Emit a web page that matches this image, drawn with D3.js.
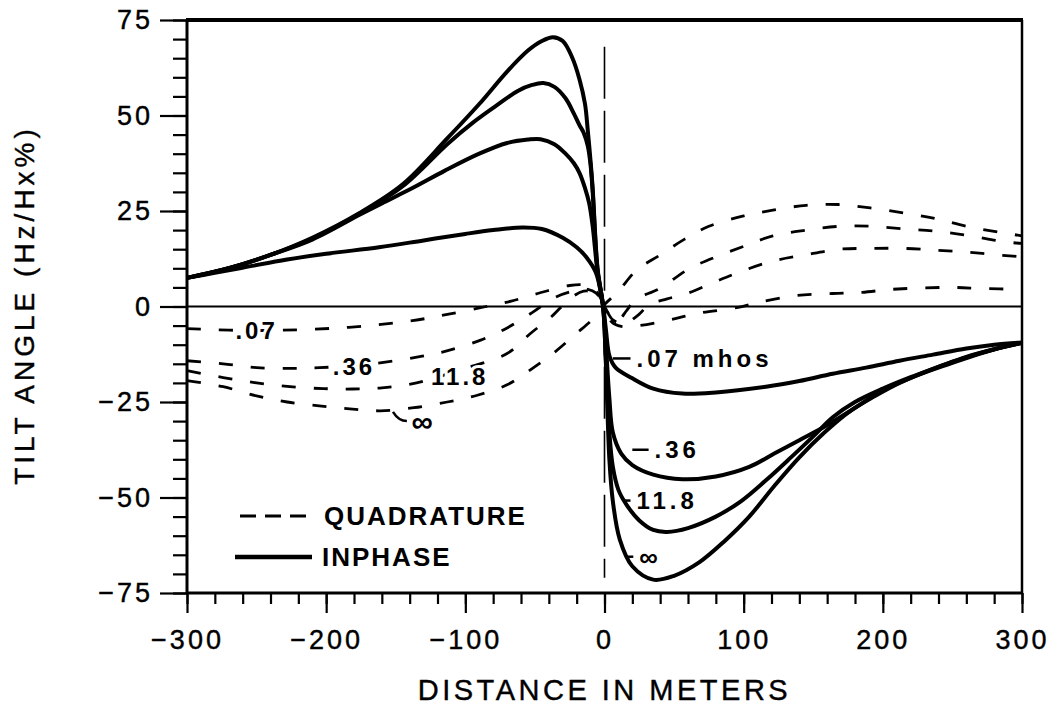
<!DOCTYPE html>
<html>
<head>
<meta charset="utf-8">
<script src="https://cdn.jsdelivr.net/npm/d3@7"></script>
<style>
  html, body { margin: 0; padding: 0; background: #fff; }
  svg { display: block; font-family: "Liberation Sans", Arial, Helvetica, sans-serif; }
</style>
</head>
<body>
<div id="chart"></div>
<script>
// ---- data: [distance (m), tilt angle (%)] ----

// inphase (solid) curves, one per conductance
const inphase007 = [[-300,7.5],[-280,8.8],[-262,10],[-233,12],[-200,13.8],[-162,15.5],[-130,17.3],[-100,19],[-80,20],[-59,20.7],[-45,20.3],[-30,18],[-20,15.5],[-13,12.9],[-6,8.7],[-1,0],[1,-6],[3.6,-13],[8,-16],[20,-18.8],[35,-21.5],[56,-22.8],[80,-22.5],[116,-21],[140,-19.5],[164,-17.6],[188,-16],[212,-14.2],[236,-12.6],[260,-11],[280,-10],[300,-9.4]];
const inphase036 = [[-300,7.5],[-270,10],[-240,13.5],[-210,17.5],[-176,24],[-160,27],[-138,31],[-115,35.5],[-90,40],[-70,42.8],[-55,43.7],[-46,43.8],[-36,42.5],[-28,40],[-22,37.5],[-18,35],[-14,31],[-11,27],[-8.5,21],[-5,9],[-1,0],[1,-10],[3.5,-24],[6,-33],[12,-38.5],[20,-41.5],[35,-44],[56,-45.2],[80,-44.5],[104,-42],[122,-38.5],[140,-35],[158,-31.5],[176,-27.5],[200,-22],[225,-18],[248,-15],[270,-12.3],[290,-10.3],[300,-9.5]];
const inphase118 = [[-300,7.5],[-270,10],[-240,13.5],[-210,17.8],[-176,24.3],[-145,31.5],[-113,42.5],[-95,48],[-78,52.5],[-62,56.5],[-52,58],[-44,58.5],[-36,57.5],[-28,54.5],[-22,50.5],[-18,47.5],[-15,45.5],[-12,42],[-10,37],[-8.5,30],[-5,9.5],[-1,0],[1,-14],[3.5,-33],[6,-42],[10,-48],[16,-52],[25,-56],[35,-58.5],[45,-59],[60,-58],[80,-55],[98,-51],[116,-45.5],[134,-39.5],[150,-34],[164,-29],[180,-25],[200,-21.5],[220,-18.5],[240,-15.8],[260,-13.2],[280,-11.2],[300,-9.5]];
const inphaseInf = [[-300,7.5],[-270,10],[-240,13.5],[-210,18],[-176,24.5],[-145,32],[-113,44],[-90,53],[-70,61.5],[-55,67],[-45,69.5],[-37,70.5],[-30,69.5],[-23,65],[-18,59.5],[-14,53],[-12,46],[-10,38],[-8.5,31],[-5,10],[-1,0],[1,-15],[3.5,-40],[6,-51],[11,-61],[20,-68],[35,-71.5],[50,-70.5],[68,-67],[86,-61.5],[104,-55],[122,-47],[140,-39.5],[158,-33],[176,-27.5],[194,-23.5],[212,-20],[236,-16.3],[260,-13.3],[280,-11.2],[300,-9.5]];

// quadrature (dashed) curves
const quad007 = [[-300,-5.8],[-250,-6.3],[-186,-5.5],[-138,-3.7],[-112,-2],[-85,0],[-67,1.4],[-48,3.4],[-25,5.5],[-13,5.5],[-6,4],[0,0],[5,-4],[12,-5.2],[25,-5],[47,-3.5],[67,-1.8],[95,-0.3],[112,1.2],[138,2.9],[164,3.4],[185,3.7],[207,4.5],[248,5],[272,4.7],[300,4.5]];
const quad036 = [[-300,-14.2],[-274,-15],[-250,-16],[-226,-16.2],[-205,-16],[-180,-15.5],[-160,-14.7],[-131,-13],[-112,-11.5],[-89,-8.8],[-70,-5.6],[-52,-1.6],[-36,2.3],[-23,4],[-12,4.5],[-6,3.5],[0,0],[6,-3.5],[14,-4.5],[25,-2],[32,0.5],[45,2],[60,3.5],[79,6.4],[97,9],[120,11.8],[144,13.5],[169,15],[191,15.2],[215,15.2],[240,14.7],[262,14.2],[286,13.4],[300,13]];
const quad118 = [[-300,-16.8],[-274,-18.6],[-250,-20],[-226,-21],[-202,-21.5],[-181,-21.6],[-160,-21.3],[-135,-20],[-103,-16.5],[-70,-12.3],[-53,-7],[-38,-2.6],[-25,2],[-15,4],[-7,3.5],[0,0],[5,-3],[10,-3.5],[16,-1],[22,1.7],[40,4.8],[60,9.7],[80,13],[102,16],[121,18.5],[145,20],[169,21],[191,21],[215,20.3],[238,19.7],[261,18.6],[286,17],[300,16.5]];
const quadInf = [[-300,-19.4],[-274,-21],[-250,-23.4],[-228,-25],[-205,-26],[-183,-26.8],[-161,-27.3],[-137,-26.5],[-113,-25],[-92,-23.3],[-70,-20.5],[-53,-16.5],[-36,-12],[-20,-7],[-9,-3.5],[-3,-1],[0,0.5],[10,4],[23,9.5],[40,13.5],[57,17.5],[75,21],[100,23.7],[121,25.2],[145,26.5],[168,26.7],[191,25.8],[215,24.5],[238,23],[260,21],[286,19.3],[300,18.5]];

// axis ticks and labels
const xTickValues = [-300, -200, -100, 0, 100, 200, 300];
const yTickValues = [-75, -50, -25, 0, 25, 50, 75];
const xLabel = "DISTANCE IN METERS";
const yLabel = "TILT ANGLE (Hz/Hx%)";
const legendNames = ["QUADRATURE", "INPHASE"];

// curve labels
const inphaseLabels = [".07 mhos", ".36", "11.8", "\u221E"];
const quadLabels = [".07", ".36", "11.8", "\u221E"];

// ---- layout ----
const margin = { top: 20, right: 35, bottom: 117, left: 187 };
const width = 1057 - margin.left - margin.right;
const height = 710 - margin.top - margin.bottom;

const x = d3.scaleLinear().domain([-300, 300]).range([0, width]);
const y = d3.scaleLinear().domain([-75, 75]).range([height, 0]);

const svg = d3.select("#chart")
  .append("svg")
    .attr("width", width + margin.left + margin.right)
    .attr("height", height + margin.top + margin.bottom)
  .append("g")
    .attr("transform", `translate(${margin.left},${margin.top})`);

// minor ticks every 5 / 20 units, major ones with labels
const yMinor = svg.append("g")
  .call(d3.axisLeft(y).tickValues(d3.range(-75, 76, 5)).tickSize(14).tickFormat(""));
const yMajor = svg.append("g")
  .call(d3.axisLeft(y).tickValues(yTickValues).tickSize(27).tickPadding(7));
const xMinor = svg.append("g")
  .attr("transform", `translate(0,${height})`)
  .call(d3.axisBottom(x).tickValues(d3.range(-300, 301, 20)).tickSize(11).tickFormat(""));
const xMajor = svg.append("g")
  .attr("transform", `translate(0,${height})`)
  .call(d3.axisBottom(x).tickValues(xTickValues).tickSize(20).tickPadding(17));

[yMinor, yMajor, xMinor, xMajor].forEach(g => {
  g.select(".domain").remove();
  g.selectAll(".tick line").attr("stroke", "#000").attr("stroke-width", 2.2);
});
[yMajor, xMajor].forEach(g => {
  g.selectAll(".tick text")
    .attr("fill", "#000")
    .attr("stroke", "#000").attr("stroke-width", 0.4)
    .style("font-size", "27px")
    .style("letter-spacing", "3px");
});

// zero line
svg.append("line")
  .attr("x1", 0).attr("x2", width)
  .attr("y1", y(0)).attr("y2", y(0))
  .attr("stroke", "#000").attr("stroke-width", 2);

// vertical dashed line at the conductor
svg.append("line")
  .attr("x1", x(0)).attr("x2", x(0))
  .attr("y1", y(68)).attr("y2", y(-71))
  .attr("stroke", "#000").attr("stroke-width", 1.6)
  .attr("stroke-dasharray", "52,12");

const line = d3.line()
  .x(d => x(d[0]))
  .y(d => y(d[1]))
  .curve(d3.curveCatmullRom.alpha(0.5));

// quadrature curves
[quad007, quad036, quad118, quadInf].forEach(data => {
  svg.append("path")
    .datum(data)
    .attr("fill", "none")
    .attr("stroke", "#000")
    .attr("stroke-width", 2.8)
    .attr("stroke-dasharray", "14,18")
    .attr("d", line);
});

// inphase curves
[inphase007, inphase036, inphase118, inphaseInf].forEach(data => {
  svg.append("path")
    .datum(data)
    .attr("fill", "none")
    .attr("stroke", "#000")
    .attr("stroke-width", 4)
    .attr("stroke-linejoin", "round")
    .attr("d", line);
});

// frame
svg.append("line").attr("x1", -1).attr("x2", width + 1).attr("y1", 0).attr("y2", 0)
  .attr("stroke", "#000").attr("stroke-width", 4);
svg.append("line").attr("x1", 0).attr("x2", 0).attr("y1", 0).attr("y2", height)
  .attr("stroke", "#000").attr("stroke-width", 3);
svg.append("line").attr("x1", -1).attr("x2", width + 1).attr("y1", height).attr("y2", height)
  .attr("stroke", "#000").attr("stroke-width", 3);
svg.append("line").attr("x1", width).attr("x2", width).attr("y1", 0).attr("y2", height)
  .attr("stroke", "#000").attr("stroke-width", 2.5);

// labels on the quadrature curves (left side)
const quadPos = [[-250, -6.3], [-180, -15.6], [-104, -18.3], [-130, -30]];
quadLabels.forEach((t, i) => {
  svg.append("text")
    .attr("x", x(quadPos[i][0]))
    .attr("y", y(quadPos[i][1]))
    .attr("text-anchor", "middle")
    .attr("dominant-baseline", "central")
    .attr("font-weight", "bold")
    .style("font-size", i === 3 ? "30px" : "24px")
    .style("letter-spacing", "3px")
    .attr("stroke", "#fff").attr("stroke-width", 6)
    .attr("paint-order", "stroke")
    .text(t);
});
// small leader to the infinity label
svg.append("path")
  .attr("d", `M${x(-152)},${y(-27.6)} Q${x(-148)},${y(-30)} ${x(-142)},${y(-30)}`)
  .attr("fill", "none").attr("stroke", "#000").attr("stroke-width", 2.5);

// labels on the inphase curves (right side), each with a short leader
const inphasePos = [[23, -13.6, 6], [36, -37.5, 20], [23, -50.8, 14], [25, -65.5, 15]];
inphaseLabels.forEach((t, i) => {
  const p = inphasePos[i];
  svg.append("line")
    .attr("x1", x(p[2])).attr("x2", x(p[0]) - 6)
    .attr("y1", y(p[1])).attr("y2", y(p[1]))
    .attr("stroke", "#000").attr("stroke-width", 2.5);
  svg.append("text")
    .attr("x", x(p[0]))
    .attr("y", y(p[1]))
    .attr("dominant-baseline", "central")
    .attr("font-weight", "bold")
    .style("font-size", i === 3 ? "26px" : "24px")
    .style("letter-spacing", "4px")
    .text(t);
});

// legend
const legend = svg.append("g").attr("transform", `translate(${240 - margin.left},${516 - margin.top})`);
legend.append("line")
  .attr("x1", 0).attr("x2", 68).attr("y1", 0).attr("y2", 0)
  .attr("stroke", "#000").attr("stroke-width", 2.8)
  .attr("stroke-dasharray", "16,9");
legend.append("line")
  .attr("x1", -5).attr("x2", 72).attr("y1", 41).attr("y2", 41)
  .attr("stroke", "#000").attr("stroke-width", 4.5);
legendNames.forEach((t, i) => {
  legend.append("text")
    .attr("x", i === 0 ? 84 : 82)
    .attr("y", i * 41)
    .attr("dominant-baseline", "central")
    .attr("font-weight", "bold")
    .style("font-size", "26px")
    .style("letter-spacing", "2px")
    .text(t);
});

// axis titles
svg.append("text")
  .attr("x", x(0))
  .attr("y", 700 - margin.top)
  .attr("text-anchor", "middle")
  .attr("stroke", "#000").attr("stroke-width", 0.4)
  .style("font-size", "29px")
  .style("letter-spacing", "3.5px")
  .text(xLabel);

svg.append("text")
  .attr("transform", `translate(${24 - margin.left},${305 - margin.top}) rotate(-90)`)
  .attr("text-anchor", "middle")
  .attr("dominant-baseline", "central")
  .attr("stroke", "#000").attr("stroke-width", 0.4)
  .style("font-size", "28px")
  .style("letter-spacing", "4px")
  .text(yLabel);
</script>
</body>
</html>
